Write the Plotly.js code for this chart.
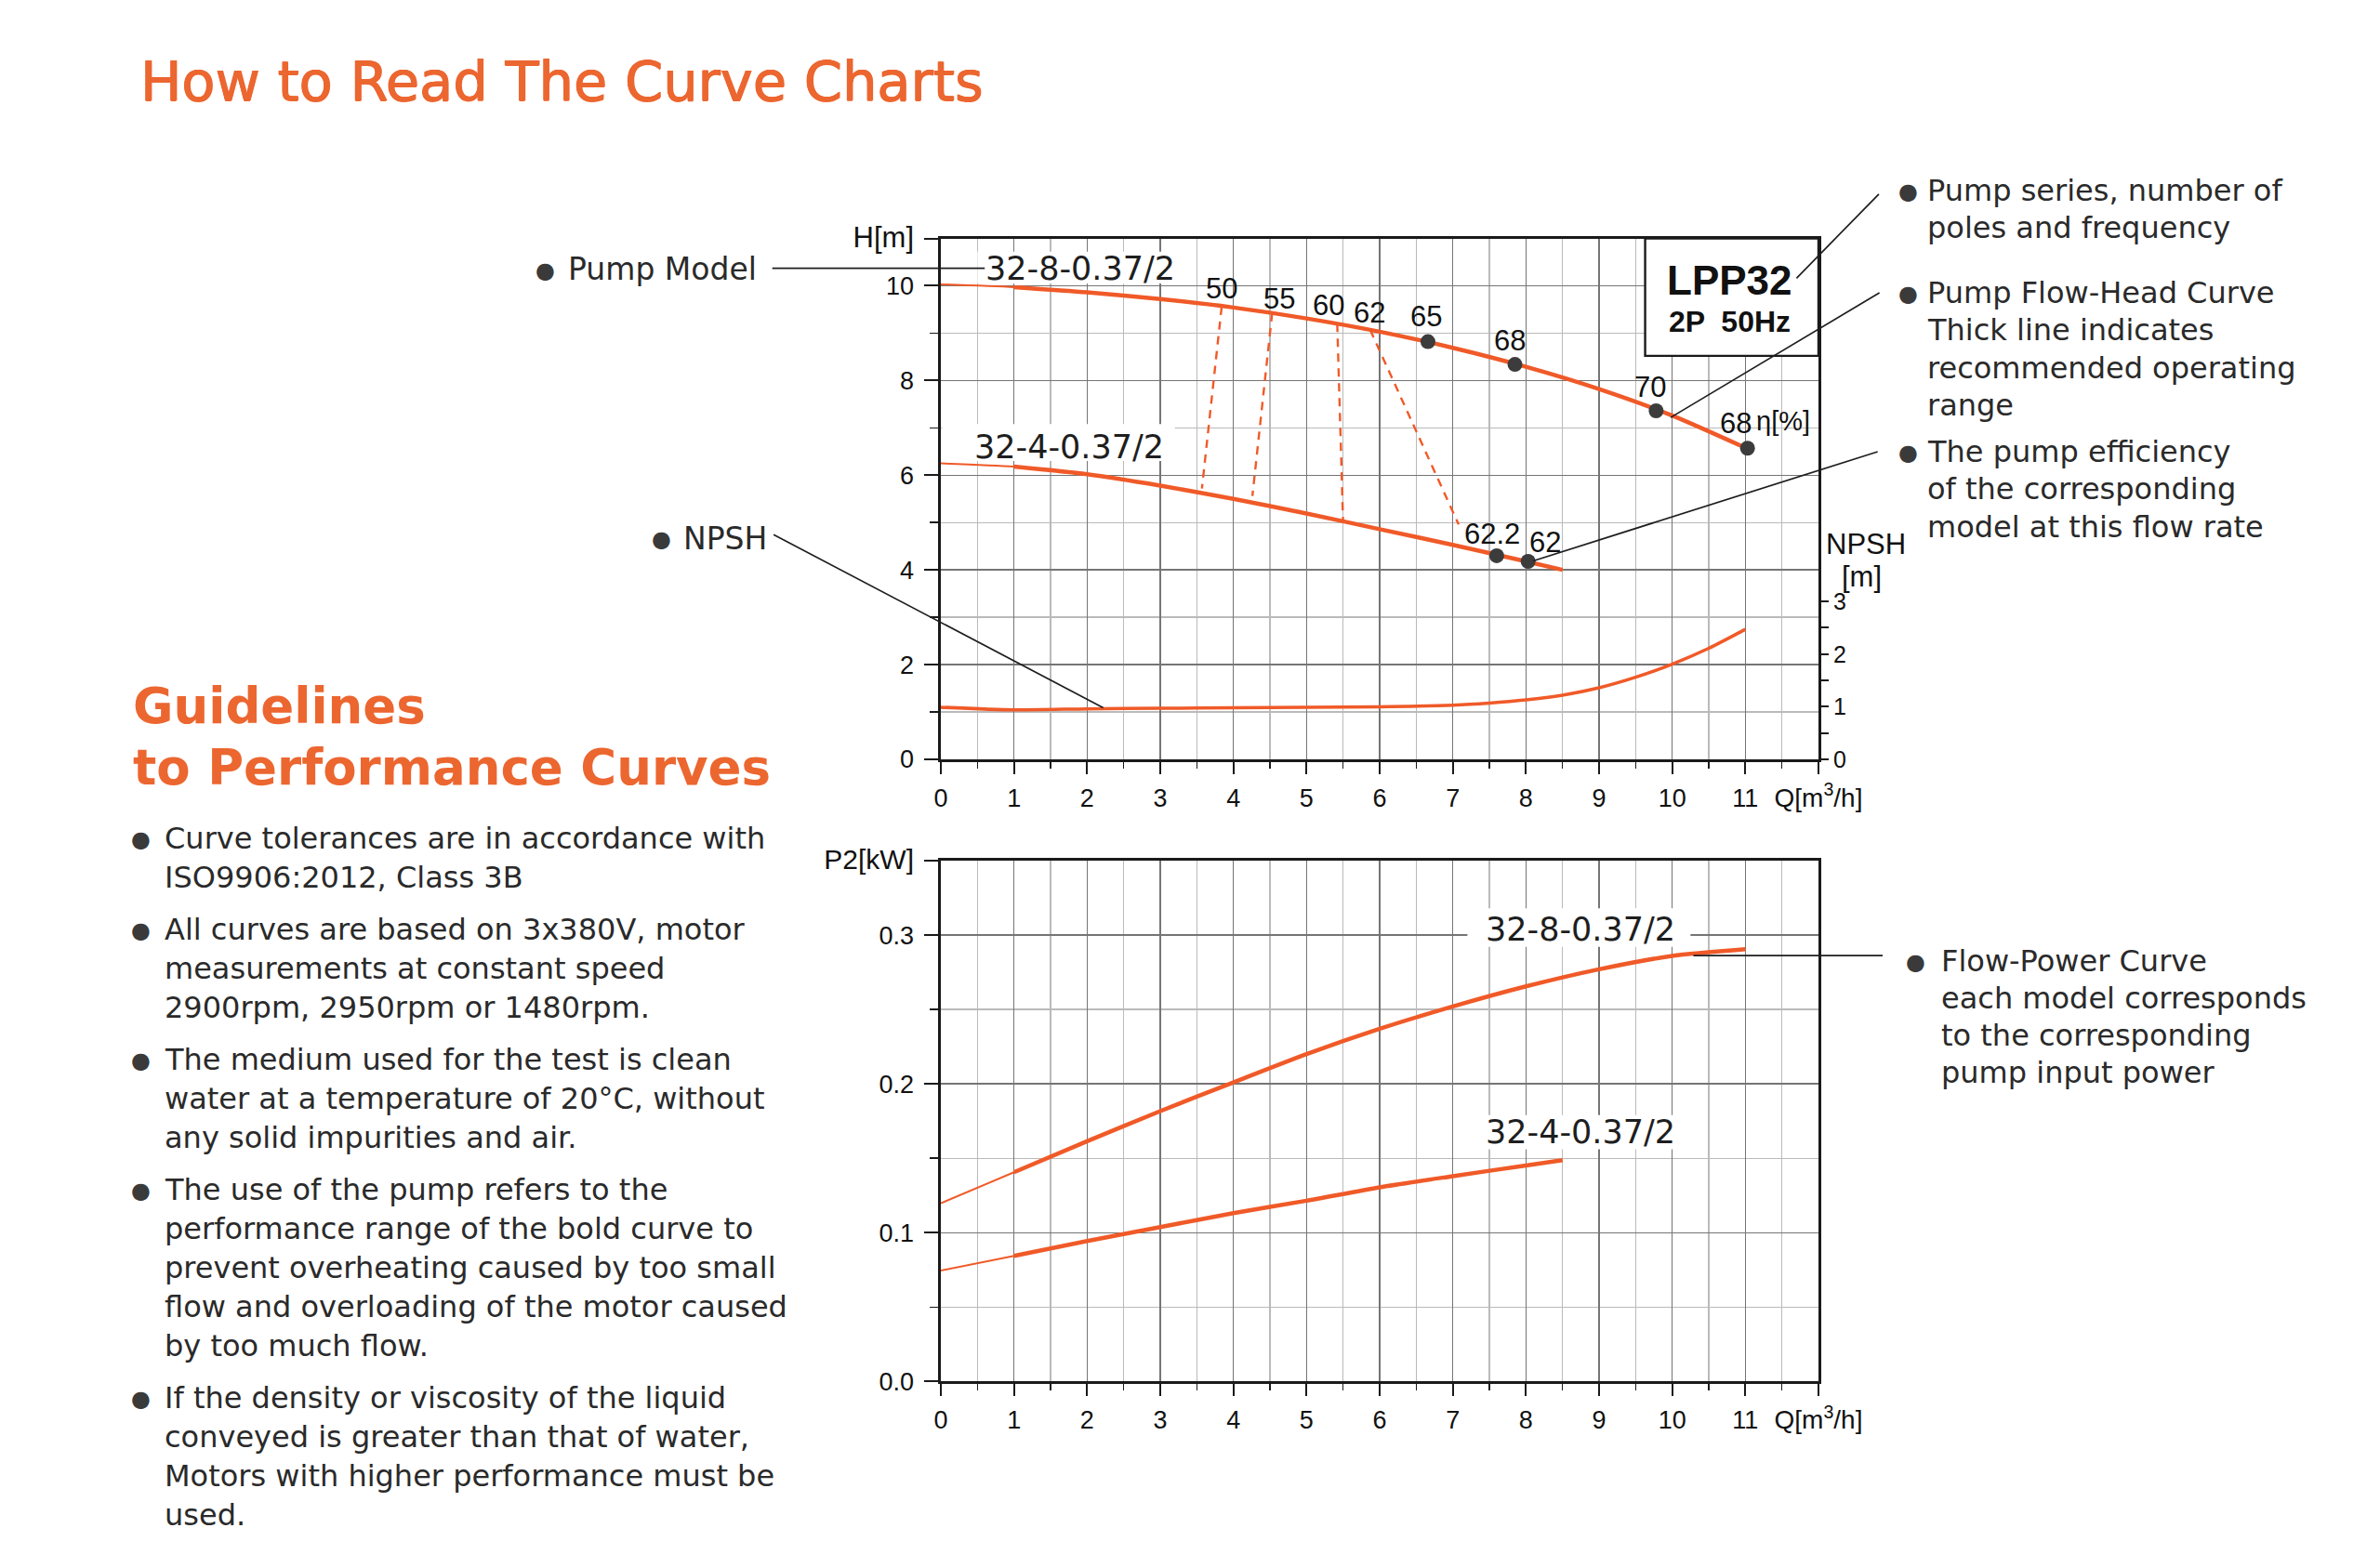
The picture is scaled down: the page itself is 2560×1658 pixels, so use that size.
<!DOCTYPE html>
<html>
<head>
<meta charset="utf-8">
<script src="https://cdn.plot.ly/plotly-3.0.1.min.js"></script>
<style>
html,body{margin:0;padding:0;background:#ffffff;}
#chart{width:2560px;height:1658px;}
</style>
</head>
<body>
<div id="chart"></div>
<script>
// ---------------- DATA ----------------
const flowQ = [0, 1, 2, 3, 4, 5, 6, 7, 8, 9, 10, 11];
const head_32_8 = [10.03, 9.97, 9.86, 9.72, 9.54, 9.31, 9.03, 8.69, 8.29, 7.82, 7.26, 6.58];
const flowQ_32_4 = [0, 1, 2, 3, 4, 5, 6, 7, 8, 8.5];
const head_32_4 = [6.25, 6.18, 6.02, 5.78, 5.50, 5.19, 4.86, 4.53, 4.18, 4.00];

const npshQ = [0, 1, 2, 3, 4, 5, 6, 7, 7.5, 8, 8.5, 9, 9.5, 10, 10.5, 11];
const npshM = [0.99, 0.94, 0.96, 0.97, 0.98, 0.99, 1.00, 1.03, 1.07, 1.13, 1.22, 1.36, 1.56, 1.81, 2.11, 2.47];

const powerQ_32_8 = [0, 1, 2, 3, 4, 5, 6, 7, 8, 9, 10, 11];
const power_32_8 = [0.1198, 0.1406, 0.1615, 0.1817, 0.2010, 0.2200, 0.2370, 0.2520, 0.2655, 0.2770, 0.2860, 0.2905];
const powerQ_32_4 = [0, 1, 2, 3, 4, 5, 6, 7, 8, 8.5];
const power_32_4 = [0.0746, 0.0844, 0.0944, 0.1038, 0.1131, 0.1215, 0.1305, 0.1380, 0.1452, 0.1488];

// efficiency points (dots) on the head curves
const effQ_32_8 = [6.66, 7.85, 9.78, 11.03];
const effH_32_8 = [8.82, 8.34, 7.36, 6.57];
const effLabel_32_8 = ['65', '68', '70', '68'];
const effQ_32_4 = [7.60, 8.03];
const effH_32_4 = [4.30, 4.18];
const effLabel_32_4 = ['62.2', '62'];

// iso-efficiency dashed lines
const isoLabel = ['50', '55', '60', '62'];
const isoTopQ = [3.84, 4.53, 5.42, 5.87];
const isoTopH = [9.56, 9.42, 9.20, 9.07];
const isoBotQ = [3.57, 4.26, 5.50, 7.08];
const isoBotH = [5.72, 5.56, 5.01, 4.96];

const xTickVals = [0, 1, 2, 3, 4, 5, 6, 7, 8, 9, 10, 11, 12];
const xTickText = ['0', '1', '2', '3', '4', '5', '6', '7', '8', '9', '10', '11',
  '<span style="font-size:28px">Q[m<sup>3</sup>/h]</span>'];
const hTickVals = [0, 2, 4, 6, 8, 10, 11];
const hTickText = ['0', '2', '4', '6', '8', '10', '<span style="font-size:31px">H[m]</span>'];
const npshTickVals = [0, 0.5, 1, 1.5, 2, 2.5, 3];
const npshTickText = ['0', '', '1', '', '2', '', '3'];
const pTickVals = [0, 0.1, 0.2, 0.3, 0.35];
const pTickText = ['0.0', '0.1', '0.2', '0.3', '<span style="font-size:30px">P2[kW]</span>'];

const guideLines = [
  ['Curve tolerances are in accordance with', 'ISO9906:2012, Class 3B'],
  ['All curves are based on 3x380V, motor', 'measurements at constant speed', '2900rpm, 2950rpm or 1480rpm.'],
  ['The medium used for the test is clean', 'water at a temperature of 20\u00b0C, without', 'any solid impurities and air.'],
  ['The use of the pump refers to the', 'performance range of the bold curve to', 'prevent overheating caused by too small', 'flow and overloading of the motor caused', 'by too much flow.'],
  ['If the density or viscosity of the liquid', 'conveyed is greater than that of water,', 'Motors with higher performance must be', 'used.']
];

// ---------------- STYLE ----------------
const W = 2560, H = 1658;
const ORANGE = '#F05A28';
const TITLE_ORANGE = '#EC6630';
const TXT = '#2a2a2a';
const DOT = '#3c3c3c';
const SANS = '"Liberation Sans", Arial, Helvetica, sans-serif';
const BODY = '"DejaVu Sans", sans-serif';

const px = (x) => x / W;
const py = (y) => 1 - y / H;

// ---------------- TRACES ----------------
const traces = [];
function curve(xs, ys, xa, ya, width) {
  return {type: 'scatter', mode: 'lines', x: xs, y: ys, xaxis: xa, yaxis: ya,
    line: {color: ORANGE, width: width, shape: 'spline', smoothing: 0.7},
    hoverinfo: 'skip', showlegend: false};
}
function thickPart(xs, ys, from) {
  const i = xs.findIndex(v => v >= from);
  return [xs.slice(i), ys.slice(i)];
}
traces.push(curve(flowQ, head_32_8, 'x', 'y', 2));
traces.push(curve(...thickPart(flowQ, head_32_8, 1), 'x', 'y', 4.5));
traces.push(curve(flowQ_32_4, head_32_4, 'x', 'y', 2));
traces.push(curve(...thickPart(flowQ_32_4, head_32_4, 1), 'x', 'y', 4.5));
traces.push(curve(npshQ, npshM, 'x', 'y3', 3.5));
traces.push(curve(powerQ_32_8, power_32_8, 'x2', 'y2', 2));
traces.push(curve(...thickPart(powerQ_32_8, power_32_8, 1), 'x2', 'y2', 4.5));
traces.push(curve(powerQ_32_4, power_32_4, 'x2', 'y2', 2));
traces.push(curve(...thickPart(powerQ_32_4, power_32_4, 1), 'x2', 'y2', 4.5));
for (let i = 0; i < isoLabel.length; i++) {
  traces.push({type: 'scatter', mode: 'lines', x: [isoTopQ[i], isoBotQ[i]], y: [isoTopH[i], isoBotH[i]],
    xaxis: 'x', yaxis: 'y', line: {color: ORANGE, width: 2.4, dash: '9px,7px'}, hoverinfo: 'skip', showlegend: false});
}
traces.push({type: 'scatter', mode: 'markers', x: effQ_32_8.concat(effQ_32_4), y: effH_32_8.concat(effH_32_4),
  xaxis: 'x', yaxis: 'y', marker: {color: DOT, size: 16}, hoverinfo: 'skip', showlegend: false});

// ---------------- ANNOTATIONS ----------------
const ann = [];
const labFont = {family: SANS, size: 31, color: '#111'};
const effOffX_8 = [-2, -6, -6, -13], effOffY_8 = [27, 26, 25, 27];
effLabel_32_8.forEach((t, i) => ann.push({x: effQ_32_8[i], y: effH_32_8[i], xref: 'x', yref: 'y', text: t, showarrow: false,
  xshift: effOffX_8[i], yshift: effOffY_8[i], font: labFont}));
const effOffX_4 = [-5, 18], effOffY_4 = [23, 21];
effLabel_32_4.forEach((t, i) => ann.push({x: effQ_32_4[i], y: effH_32_4[i], xref: 'x', yref: 'y', text: t, showarrow: false,
  xshift: effOffX_4[i], yshift: effOffY_4[i], font: labFont}));
const isoOffX = [0, 8, -9, -1], isoOffY = [19, 16, 20, 18];
isoLabel.forEach((t, i) => ann.push({x: isoTopQ[i], y: isoTopH[i], xref: 'x', yref: 'y', text: t, showarrow: false,
  xshift: isoOffX[i], yshift: isoOffY[i], font: labFont}));
ann.push({x: 11.52, y: 7.14, xref: 'x', yref: 'y', text: '\u03b7[%]', showarrow: false, font: {family: SANS, size: 29, color: '#111'}});

const modelFont = {family: BODY, size: 35, color: '#1e1e1e'};
ann.push({x: 1.91, y: 10.36, xref: 'x', yref: 'y', text: '32-8-0.37/2', showarrow: false, font: modelFont});
ann.push({x: 1.76, y: 6.60, xref: 'x', yref: 'y', text: '32-4-0.37/2', showarrow: false, font: modelFont});
ann.push({x: 8.75, y: 0.304, xref: 'x2', yref: 'y2', text: '32-8-0.37/2', showarrow: false, font: modelFont});
ann.push({x: 8.75, y: 0.1677, xref: 'x2', yref: 'y2', text: '32-4-0.37/2', showarrow: false, font: modelFont});

ann.push({x: 10.78, y: 10.12, xref: 'x', yref: 'y', text: '<b>LPP32</b>', showarrow: false, font: {family: SANS, size: 44, color: '#111'}});
ann.push({x: 10.78, y: 9.24, xref: 'x', yref: 'y', text: '<b>2P  50Hz</b>', showarrow: false, font: {family: SANS, size: 32, color: '#111'}});

ann.push({x: px(2007), y: py(585), xref: 'paper', yref: 'paper', xanchor: 'center', yanchor: 'middle', text: 'NPSH', showarrow: false, font: {family: SANS, size: 31, color: '#111'}});
ann.push({x: px(2002), y: py(620), xref: 'paper', yref: 'paper', xanchor: 'center', yanchor: 'middle', text: '[m]', showarrow: false, font: {family: SANS, size: 31, color: '#111'}});

function leader(x, y, xr, yr, ax, ay) {
  return {x: x, y: y, xref: xr, yref: yr, text: '', showarrow: true, arrowhead: 0, arrowwidth: 1.7,
    arrowcolor: '#1e1e1e', ax: ax, ay: ay, axref: 'pixel', ayref: 'pixel', standoff: 0, startstandoff: 0};
}
ann.push(leader(0.60, 10.37, 'x', 'y', -230, 0));
ann.push(leader(2.22, 1.09, 'x', 'y', -356, -187));
ann.push(leader(11.70, 10.16, 'x', 'y', 90, -92));
ann.push(leader(9.98, 7.22, 'x', 'y', 226, -135));
ann.push(leader(8.10, 4.19, 'x', 'y', 372, -118));
ann.push(leader(10.29, 0.2862, 'x2', 'y2', 205, 0));

function textAt(x, y, t, size, color, family, extra) {
  return Object.assign({x: px(x), y: py(y), xref: 'paper', yref: 'paper', text: t, showarrow: false,
    xanchor: 'left', yanchor: 'middle', align: 'left', font: {family: family || BODY, size: size, color: color}}, extra || {});
}
function bullet(x, y, size) {
  return {x: px(x), y: py(y), xref: 'paper', yref: 'paper', text: '\u25cf', showarrow: false,
    xanchor: 'center', yanchor: 'middle', font: {family: BODY, size: size || 24, color: '#3a3a3a'}};
}
const titleShadow = '0.7px 0 0 ' + TITLE_ORANGE + ', -0.5px 0 0 ' + TITLE_ORANGE + ', 0 0.5px 0 ' + TITLE_ORANGE;
ann.push(textAt(149, 87, 'How to Read The Curve Charts', 59, TITLE_ORANGE, BODY));
ann[ann.length - 1].font.shadow = titleShadow;
ann.push(textAt(141, 760, '<b>Guidelines</b>', 53, TITLE_ORANGE));
ann.push(textAt(141, 825, '<b>to Performance Curves</b>', 53, TITLE_ORANGE));

let yy = 902;
guideLines.forEach((block) => {
  ann.push(bullet(151, yy + 1, 24));
  block.forEach((line) => {
    ann.push(textAt(175, yy, line, 32, TXT));
    yy += 42;
  });
  yy += 14;
});

const notes = [
  {y: 205, lines: ['Pump series, number of', 'poles and frequency']},
  {y: 315, lines: ['Pump Flow-Head Curve', 'Thick line indicates', 'recommended operating', 'range']},
  {y: 486, lines: ['The pump efficiency', 'of the corresponding', 'model at this flow rate']}
];
notes.forEach((n) => {
  ann.push(bullet(2052, n.y + 1, 24));
  n.lines.forEach((line, j) => ann.push(textAt(2071, n.y + j * 40.3, line, 32, TXT)));
});
ann.push(bullet(2060, 1035, 24));
['Flow-Power Curve', 'each model corresponds', 'to the corresponding', 'pump input power'].forEach((line, j) =>
  ann.push(textAt(2086, 1034 + j * 40, line, 32, TXT)));
ann.push(bullet(586, 291, 24));
ann.push(textAt(609, 290, 'Pump Model', 33, TXT));
ann.push(bullet(711, 580, 24));
ann.push(textAt(733, 579, 'NPSH', 33, TXT));

// ---------------- SHAPES ----------------
const shapes = [
  {type: 'rect', xref: 'x', yref: 'y', x0: 9.63, x1: 12, y0: 8.52, y1: 11, fillcolor: '#ffffff',
    line: {color: '#1a1a1a', width: 2.4}, layer: 'between'},
  {type: 'rect', xref: 'x', yref: 'y', x0: 0.5, x1: 3.3, y0: 10.05, y1: 10.72, fillcolor: '#ffffff', line: {width: 0}, layer: 'between'},
  {type: 'rect', xref: 'x', yref: 'y', x0: 0.02, x1: 3.2, y0: 6.3, y1: 7.08, fillcolor: '#ffffff', line: {width: 0}, layer: 'between'},
  {type: 'rect', xref: 'x2', yref: 'y2', x0: 7.2, x1: 10.25, y0: 0.292, y1: 0.318, fillcolor: '#ffffff', line: {width: 0}, layer: 'between'},
  {type: 'rect', xref: 'x2', yref: 'y2', x0: 7.45, x1: 10.1, y0: 0.156, y1: 0.179, fillcolor: '#ffffff', line: {width: 0}, layer: 'between'}
];

// ---------------- AXES ----------------
const tickFont = {family: SANS, size: 27, color: '#111'};
const MAJOR_GRID = '#757575', MINOR_GRID = '#bababa';
function xAxis(anchor) {
  return {domain: [1012 / W, 1956 / W], anchor: anchor, range: [0, 12], tickmode: 'array',
    tickvals: xTickVals, ticktext: xTickText, ticks: 'outside', ticklen: 13, tickwidth: 2, tickcolor: '#1a1a1a',
    showline: true, linecolor: '#1a1a1a', linewidth: 2.6, mirror: true, ticklabelstandoff: 3,
    showgrid: true, gridcolor: MAJOR_GRID, gridwidth: 1.5, zeroline: false, tickfont: tickFont, fixedrange: true,
    minor: {tick0: 0, dtick: 0.5, ticks: 'outside', ticklen: 7, tickwidth: 1.6, tickcolor: '#1a1a1a',
      showgrid: true, gridcolor: MINOR_GRID, gridwidth: 1.4}};
}
function yAxis(domain, anchor, range, vals, text, minorDtick) {
  return {domain: domain, anchor: anchor, range: range, tickmode: 'array',
    tickvals: vals, ticktext: text, ticks: 'outside', ticklen: 15, tickwidth: 2, tickcolor: '#1a1a1a',
    showline: true, linecolor: '#1a1a1a', linewidth: 2.6, mirror: true, ticklabelstandoff: 6,
    showgrid: true, gridcolor: MAJOR_GRID, gridwidth: 1.5, zeroline: false, tickfont: tickFont, fixedrange: true,
    minor: {tick0: 0, dtick: minorDtick, ticks: 'outside', ticklen: 9, tickwidth: 1.6, tickcolor: '#1a1a1a',
      showgrid: true, gridcolor: MINOR_GRID, gridwidth: 1.4}};
}
const layout = {
  width: W, height: H, autosize: false,
  margin: {l: 0, r: 0, t: 0, b: 0, pad: 0},
  paper_bgcolor: '#ffffff', plot_bgcolor: '#ffffff',
  showlegend: false,
  xaxis: xAxis('y'),
  yaxis: yAxis([1 - 817 / H, 1 - 256.5 / H], 'x', [0, 11], hTickVals, hTickText, 1),
  yaxis3: {overlaying: 'y', side: 'right', anchor: 'x', range: [0, 9.9], tickmode: 'array',
    tickvals: npshTickVals, ticktext: npshTickText, ticks: 'outside', ticklen: 10, tickwidth: 2, tickcolor: '#1a1a1a',
    showline: false, showgrid: false, zeroline: false, tickfont: {family: SANS, size: 25, color: '#111'}, fixedrange: true},
  xaxis2: xAxis('y2'),
  yaxis2: yAxis([1 - 1486.4 / H, 1 - 926 / H], 'x2', [0, 0.35], pTickVals, pTickText, 0.05),
  annotations: ann,
  shapes: shapes
};

Plotly.newPlot('chart', traces, layout, {staticPlot: true, displayModeBar: false});
</script>
</body>
</html>
